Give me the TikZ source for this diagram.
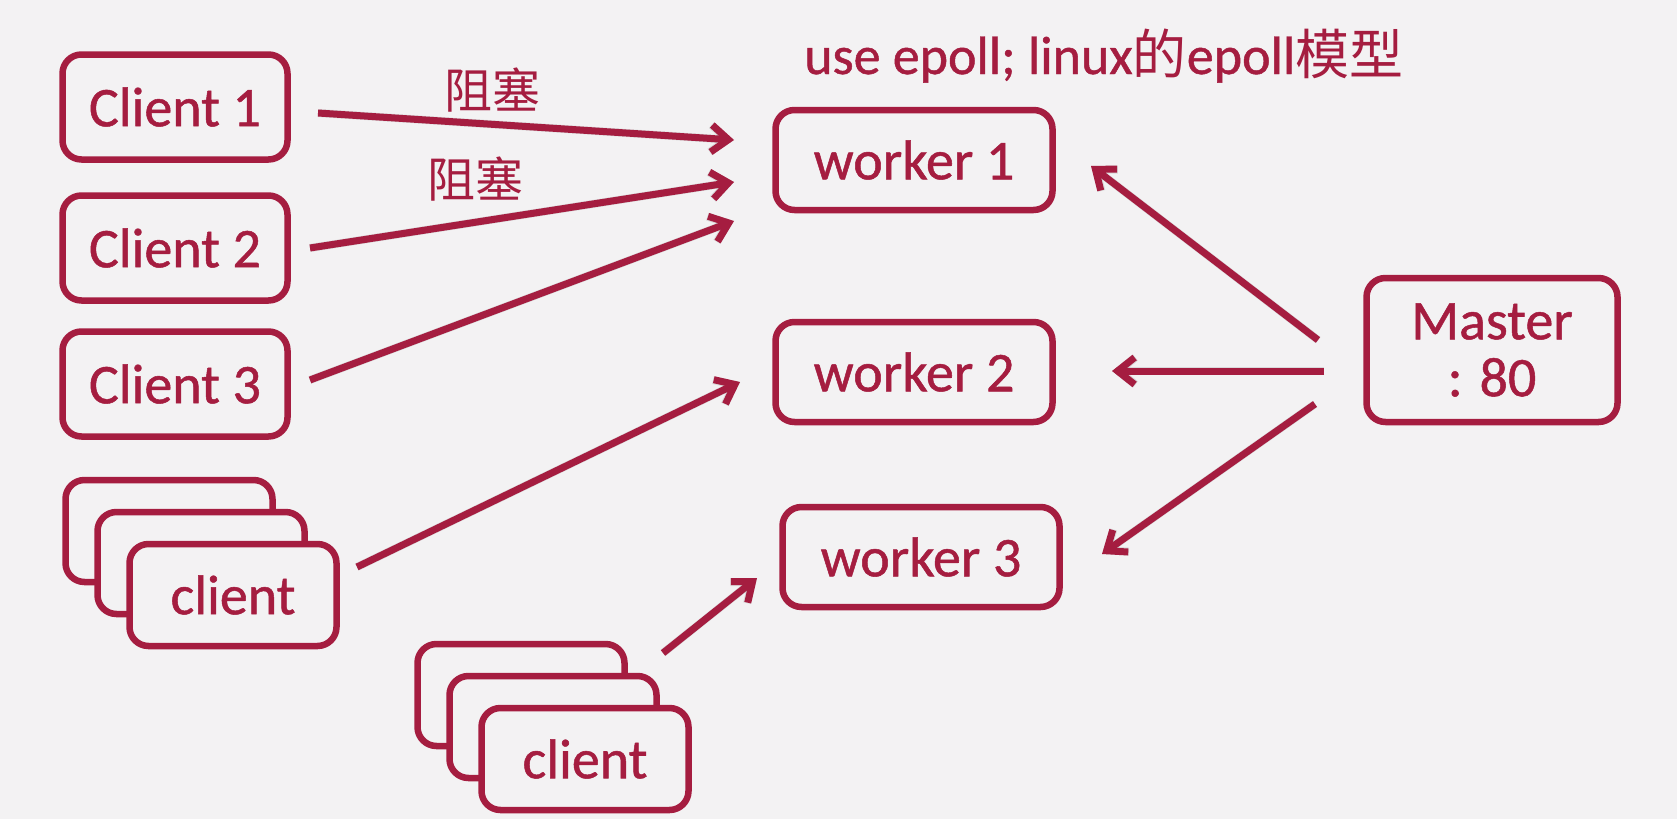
\documentclass[tikz,border=0pt]{standalone}
\usepackage{fontspec}
\setmainfont{Carlito}[FakeBold=0.9]
\newfontfamily\cjk{Noto Sans CJK SC}
\usetikzlibrary{arrows.meta}
\definecolor{crim}{HTML}{A51D40}
\definecolor{bg}{HTML}{F3F2F3}
\begin{document}
\begin{tikzpicture}[x=1pt,y=-1pt,
  box/.style={draw=crim, line width=6.5pt, rounded corners=19pt, fill=bg,
    text=crim, inner sep=0pt, font=\fontsize{56}{58}\selectfont},
  cbox/.style={box, minimum width=225pt, minimum height=105pt},
  sbox/.style={box, minimum width=207pt, minimum height=102pt},
  wbox/.style={box, minimum width=277pt, minimum height=100pt},
  arr/.style={draw=crim, line width=7pt, -{Straight Barb[length=17pt,width=27pt,line width=7pt]}},
  shd/.style={draw=black, opacity=0.10, line width=8pt, shift={(2,4)}, -{Straight Barb[length=17pt,width=27pt,line width=8pt]}},
  lbl/.style={text=crim, inner sep=0pt}
]
\fill[bg] (0,0) rectangle (1677,819);
\useasboundingbox (0,0) rectangle (1677,819);

% title
\node[lbl, anchor=base west, font=\fontsize{54}{58}\selectfont] (title) at (804,74)
  {use epoll; linux{\cjk 的}epoll{\cjk 模型}};

% clients
\node[cbox] (c1) at (175,107) {Client 1};
\node[cbox] (c2) at (175,248) {Client 2};
\node[cbox] (c3) at (175,384) {Client 3};

% stack 1
\node[sbox] (s1a) at (169,531) {};
\node[sbox] (s1b) at (201,563) {};
\node[sbox] (s1c) at (233,595) {client};

% stack 2
\node[sbox] (s2a) at (521,695) {};
\node[sbox] (s2b) at (553,727) {};
\node[sbox] (s2c) at (585,759) {client};

% workers
\node[wbox] (w1) at (914,160) {worker 1};
\node[wbox] (w2) at (914,372) {worker 2};
\node[wbox] (w3) at (921,557) {worker 3};

% master
\node[box, minimum width=251pt, minimum height=144pt, align=center,
  font=\fontsize{56}{57}\selectfont] (m) at (1492,350) {Master\\: 80};

% labels
\node[lbl, anchor=base, font=\cjk\fontsize{48}{52}\selectfont] (b1) at (492,108) {阻塞};
\node[lbl, anchor=base, font=\cjk\fontsize{48}{52}\selectfont] (b2) at (475,197) {阻塞};

% arrow ends
\coordinate (a1s) at (318,113);  \coordinate (a1e) at (734,140);
\coordinate (a2s) at (310,248);  \coordinate (a2e) at (734,182);
\coordinate (a3s) at (310,380);  \coordinate (a3e) at (734,221);
\coordinate (a4s) at (357,567);  \coordinate (a4e) at (740,382);
\coordinate (a5s) at (663,653);  \coordinate (a5e) at (757,578);
\coordinate (m1s) at (1318,340); \coordinate (m1e) at (1091,166);
\coordinate (m2s) at (1324,371); \coordinate (m2e) at (1112,371);
\coordinate (m3s) at (1315,404); \coordinate (m3e) at (1102,554);

\foreach \s/\e in {a1s/a1e,a2s/a2e,a3s/a3e,a4s/a4e,a5s/a5e,m1s/m1e,m2s/m2e,m3s/m3e}{
  \draw[shd] (\s) -- (\e);
}
\draw[arr] (a1s) -- (a1e);
\draw[arr] (a2s) -- (a2e);
\draw[arr] (a3s) -- (a3e);
\draw[arr] (a4s) -- (a4e);
\draw[arr] (a5s) -- (a5e);
\draw[arr] (m1s) -- (m1e);
\draw[arr] (m2s) -- (m2e);
\draw[arr] (m3s) -- (m3e);
\end{tikzpicture}
\end{document}
